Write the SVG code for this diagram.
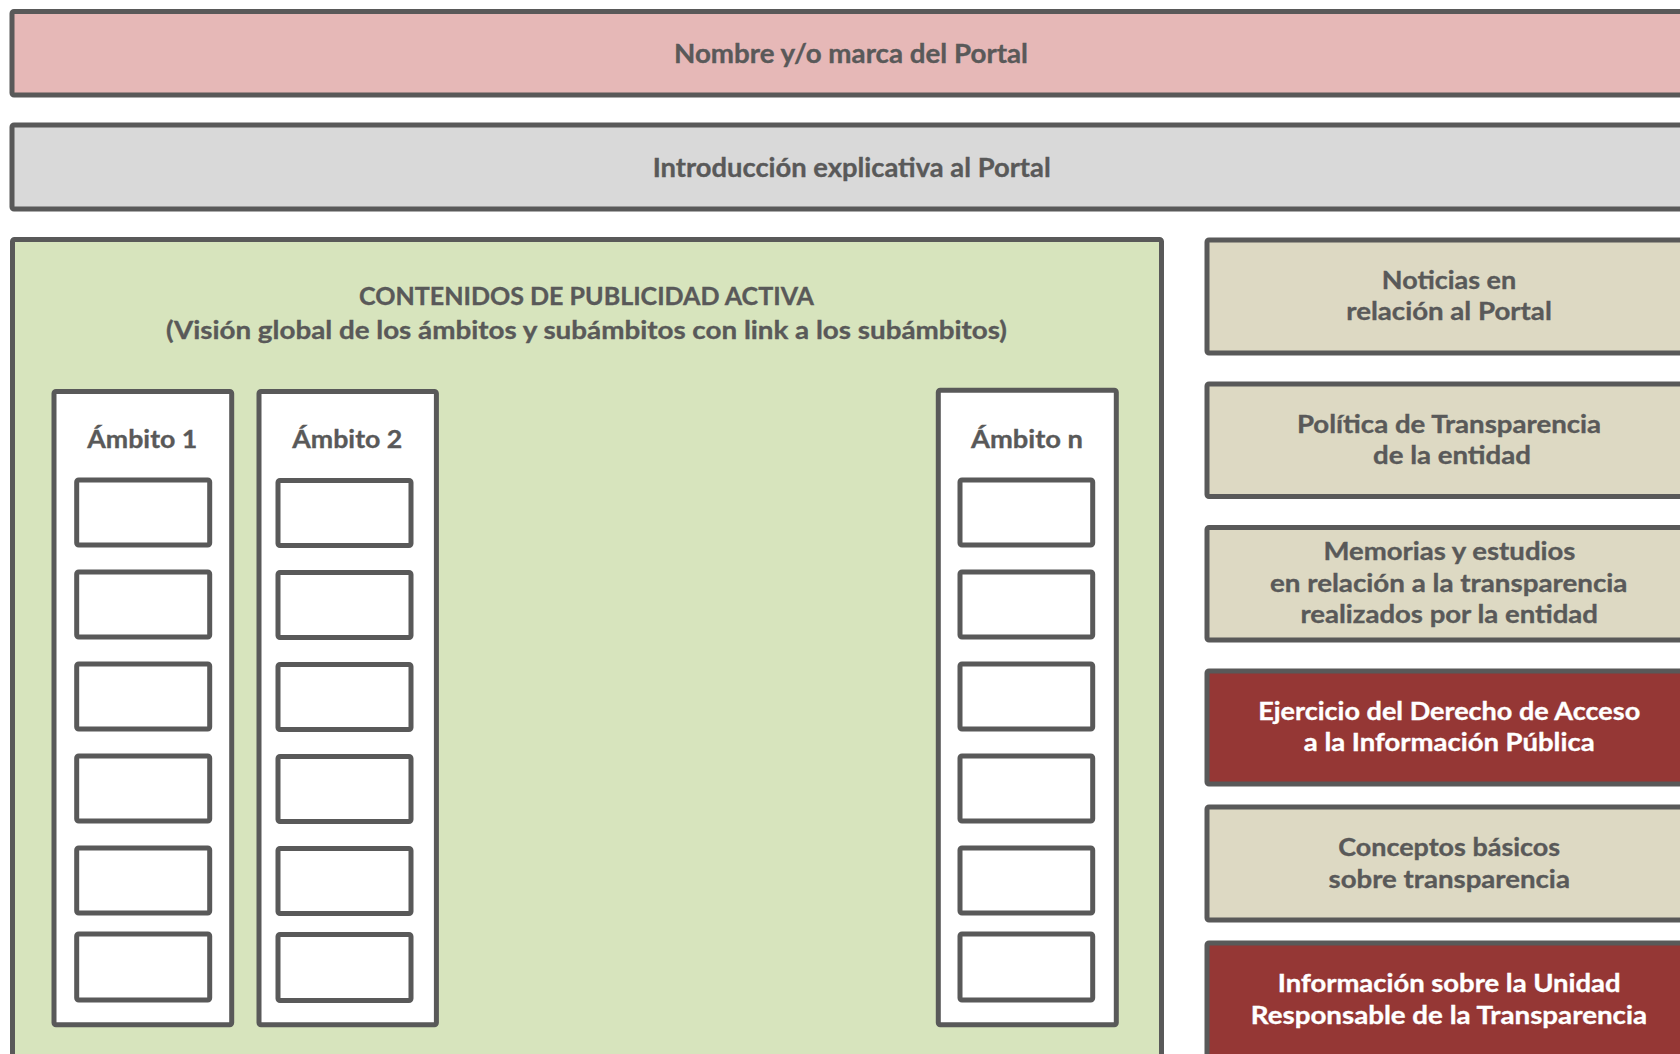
<svg xmlns="http://www.w3.org/2000/svg" width="1680" height="1054" viewBox="0 0 1680 1054">
<style>
.box{stroke:#595959;stroke-width:5;}
.pink{fill:#E6B8B7;}
.grey{fill:#D9D9D9;}
.green{fill:#D7E4BD;}
.tan{fill:#DDD9C3;}
.red{fill:#953735;}
.white{fill:#FFFFFF;}
text{font-family:Lato,"Liberation Sans",sans-serif;font-weight:bold;text-anchor:middle;}
.dk{fill:#595959;stroke:#595959;stroke-width:0.35;}
.wt{fill:#FFFFFF;stroke:#FFFFFF;stroke-width:0.35;}
.f26{font-size:26.5px;}
.f25{font-size:25px;}
.f24{font-size:24.5px;}
</style>
<g id="nombre">
<rect class="box pink" x="12" y="11.5" width="1680" height="83.5" rx="2"/>
<text class="dk f26" x="851" y="63.3" textLength="354" lengthAdjust="spacingAndGlyphs">Nombre y/o marca del Portal</text>
</g>
<g id="introduccion">
<rect class="box grey" x="12" y="125" width="1680" height="84" rx="2"/>
<text class="dk f26" x="851.7" y="177.3" textLength="398" lengthAdjust="spacingAndGlyphs">Introducción explicativa al Portal</text>
</g>
<g id="contenidos">
<rect class="box green" x="12.5" y="239.5" width="1149" height="830" rx="2"/>
<text class="dk f25" x="586.5" y="305" textLength="455" lengthAdjust="spacingAndGlyphs">CONTENIDOS DE PUBLICIDAD ACTIVA</text>
<text class="dk f25" x="586.5" y="339" textLength="841" lengthAdjust="spacingAndGlyphs">(Visión global de los ámbitos y subámbitos con link a los subámbitos)</text>
</g>
<g id="ambito1">
<rect class="box white" x="54" y="391.5" width="177.7" height="633.2" rx="2"/>
<text class="dk f25" x="142.3" y="448.3" textLength="110" lengthAdjust="spacingAndGlyphs">Ámbito 1</text>
<rect class="box white" x="76.7" y="480" width="133" height="65" rx="2"/>
<rect class="box white" x="76.7" y="572" width="133" height="65" rx="2"/>
<rect class="box white" x="76.7" y="664" width="133" height="65" rx="2"/>
<rect class="box white" x="76.7" y="756" width="133" height="65" rx="2"/>
<rect class="box white" x="76.7" y="848" width="133" height="65" rx="2"/>
<rect class="box white" x="76.7" y="934" width="133" height="66" rx="2"/>
</g>
<g id="ambito2">
<rect class="box white" x="259" y="391.5" width="177.4" height="633.2" rx="2"/>
<text class="dk f25" x="347.3" y="447.7" textLength="110" lengthAdjust="spacingAndGlyphs">Ámbito 2</text>
<rect class="box white" x="278" y="480.5" width="133" height="65" rx="2"/>
<rect class="box white" x="278" y="572.5" width="133" height="65" rx="2"/>
<rect class="box white" x="278" y="664.5" width="133" height="65" rx="2"/>
<rect class="box white" x="278" y="756.5" width="133" height="65" rx="2"/>
<rect class="box white" x="278" y="848.5" width="133" height="65" rx="2"/>
<rect class="box white" x="278" y="934.5" width="133" height="66" rx="2"/>
</g>
<g id="ambiton">
<rect class="box white" x="938.3" y="390.3" width="178" height="634.4" rx="2"/>
<text class="dk f25" x="1027" y="447.7" textLength="112" lengthAdjust="spacingAndGlyphs">Ámbito n</text>
<rect class="box white" x="960" y="480" width="132.7" height="65" rx="2"/>
<rect class="box white" x="960" y="572" width="132.7" height="65" rx="2"/>
<rect class="box white" x="960" y="664" width="132.7" height="65" rx="2"/>
<rect class="box white" x="960" y="756" width="132.7" height="65" rx="2"/>
<rect class="box white" x="960" y="848" width="132.7" height="65" rx="2"/>
<rect class="box white" x="960" y="934" width="132.7" height="66" rx="2"/>
</g>
<g id="noticias">
<rect class="box tan" x="1207" y="240" width="484" height="113" rx="2"/>
<text class="dk f24" x="1449" y="289.3" textLength="134.3" lengthAdjust="spacingAndGlyphs">Noticias en</text>
<text class="dk f24" x="1449" y="320" textLength="205.5" lengthAdjust="spacingAndGlyphs">relación al Portal</text>
</g>
<g id="politica">
<rect class="box tan" x="1207" y="384" width="484" height="112.5" rx="2"/>
<text class="dk f24" x="1449" y="432.5" textLength="304.2" lengthAdjust="spacingAndGlyphs">Política de Transparencia</text>
<text class="dk f24" x="1452" y="464" textLength="157.9" lengthAdjust="spacingAndGlyphs">de la entidad</text>
</g>
<g id="memorias">
<rect class="box tan" x="1207" y="527.5" width="484" height="112.5" rx="2"/>
<text class="dk f24" x="1449.4" y="559.5" textLength="252" lengthAdjust="spacingAndGlyphs">Memorias y estudios</text>
<text class="dk f24" x="1448.7" y="591.5" textLength="357.4" lengthAdjust="spacingAndGlyphs">en relación a la transparencia</text>
<text class="dk f24" x="1449.2" y="623.3" textLength="297.6" lengthAdjust="spacingAndGlyphs">realizados por la entidad</text>
</g>
<g id="ejercicio">
<rect class="box red" x="1207" y="671" width="484" height="113" rx="2"/>
<text class="wt f24" x="1449.2" y="719.8" textLength="382" lengthAdjust="spacingAndGlyphs">Ejercicio del Derecho de Acceso</text>
<text class="wt f24" x="1449.2" y="751.2" textLength="290.8" lengthAdjust="spacingAndGlyphs">a la Información Pública</text>
</g>
<g id="conceptos">
<rect class="box tan" x="1207" y="807" width="484" height="113" rx="2"/>
<text class="dk f24" x="1449.2" y="856" textLength="221.8" lengthAdjust="spacingAndGlyphs">Conceptos básicos</text>
<text class="dk f24" x="1449.2" y="887.5" textLength="241.4" lengthAdjust="spacingAndGlyphs">sobre transparencia</text>
</g>
<g id="informacion">
<rect class="box red" x="1207" y="943" width="484" height="130" rx="2"/>
<text class="wt f24" x="1449.2" y="991.5" textLength="342.8" lengthAdjust="spacingAndGlyphs">Información sobre la Unidad</text>
<text class="wt f24" x="1448.9" y="1023.5" textLength="396.3" lengthAdjust="spacingAndGlyphs">Responsable de la Transparencia</text>
</g>
<g id="connectors"></g>
</svg>
